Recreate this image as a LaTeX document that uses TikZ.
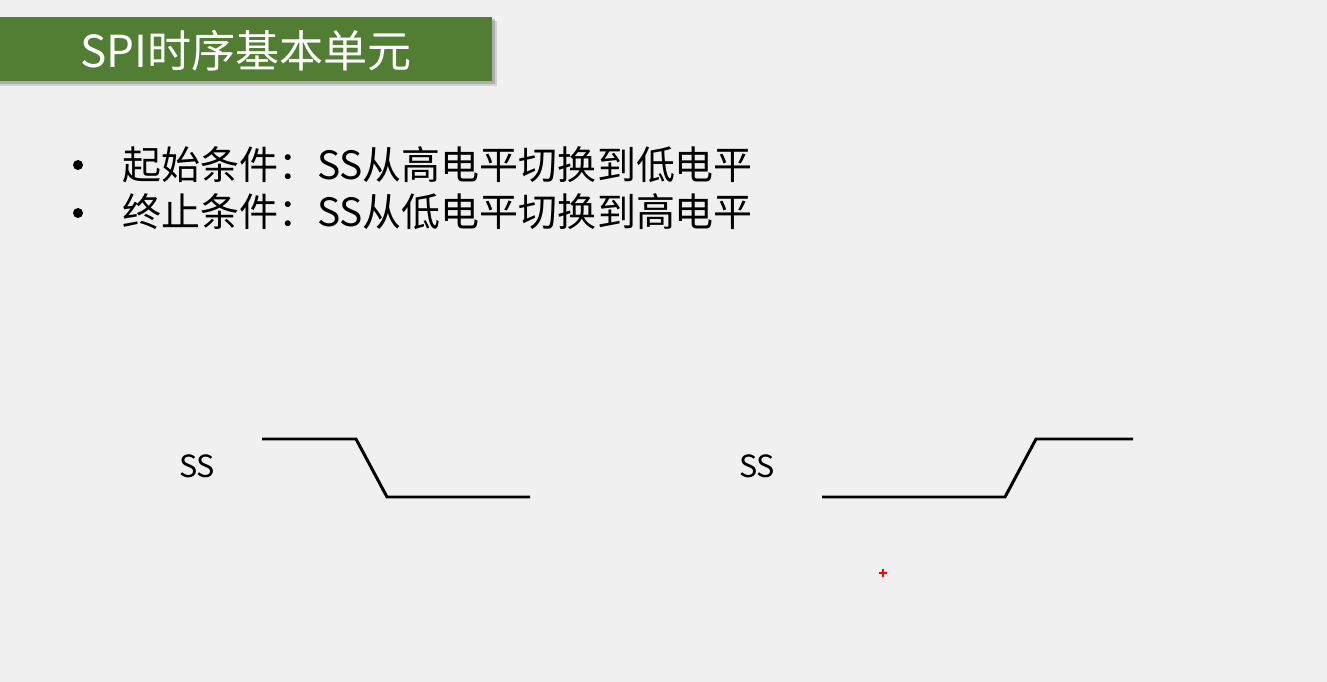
\documentclass[tikz,border=0pt]{standalone}
\usepackage{fontspec}
\usepackage{xcolor}
\usepackage{tikz}
\usetikzlibrary{positioning}
\newfontfamily\cjk{Noto Sans CJK SC}
\definecolor{pagebg}{HTML}{F0F0F0}
\definecolor{titlegreen}{HTML}{517E33}

\begin{document}
\begin{tikzpicture}[x=0.02cm, y=-0.02cm,
	every node/.style={font=\cjk, inner sep=0pt, outer sep=0pt},
	title/.style={font=\cjk\fontsize{25.1}{28}\selectfont, text=white, anchor=base west},
	item/.style={font=\cjk\fontsize{22.2}{26}\selectfont, anchor=base west},
	dot/.style={circle, fill=black, minimum size=0.2cm},
	sig/.style={font=\cjk\fontsize{17.4}{20}\selectfont, anchor=base west},
	signal/.style={line width=1.7pt, line join=miter}]
	\fill[pagebg] (0,0) rectangle (1327,682);
	\useasboundingbox (0,0) rectangle (1327,682);
	% title bar
	\fill[black, opacity=0.12] (0,21) rectangle (497,86);
	\fill[black, opacity=0.18] (0,19) rectangle (495,84);
	\fill[titlegreen] (0,17) rectangle (492,81);
	\node[title] (head) at (80,68) {SPI时序基本单元};
	% bullets
	\node[dot] (dot1) at (78,165) {};
	\node[item] (start) at (122,179) {起始条件：SS从高电平切换到低电平};
	\node[dot] (dot2) at (78,213) {};
	\node[item] (stop) at (122,226) {终止条件：SS从低电平切换到高电平};
	% start condition
	\node[sig] (ss1) at (179,477) {SS};
	\draw[signal] (262,439) -- (356,439) -- (387,497) -- (530,497);
	% stop condition
	\node[sig] (ss2) at (739,477) {SS};
	\draw[signal] (822,497) -- (1005,497) -- (1036,439) -- (1133,439);
	% cursor mark
	\draw[red, line width=0.8pt] (879,573) -- (887,573) (883,569) -- (883,577);
\end{tikzpicture}
\end{document}
